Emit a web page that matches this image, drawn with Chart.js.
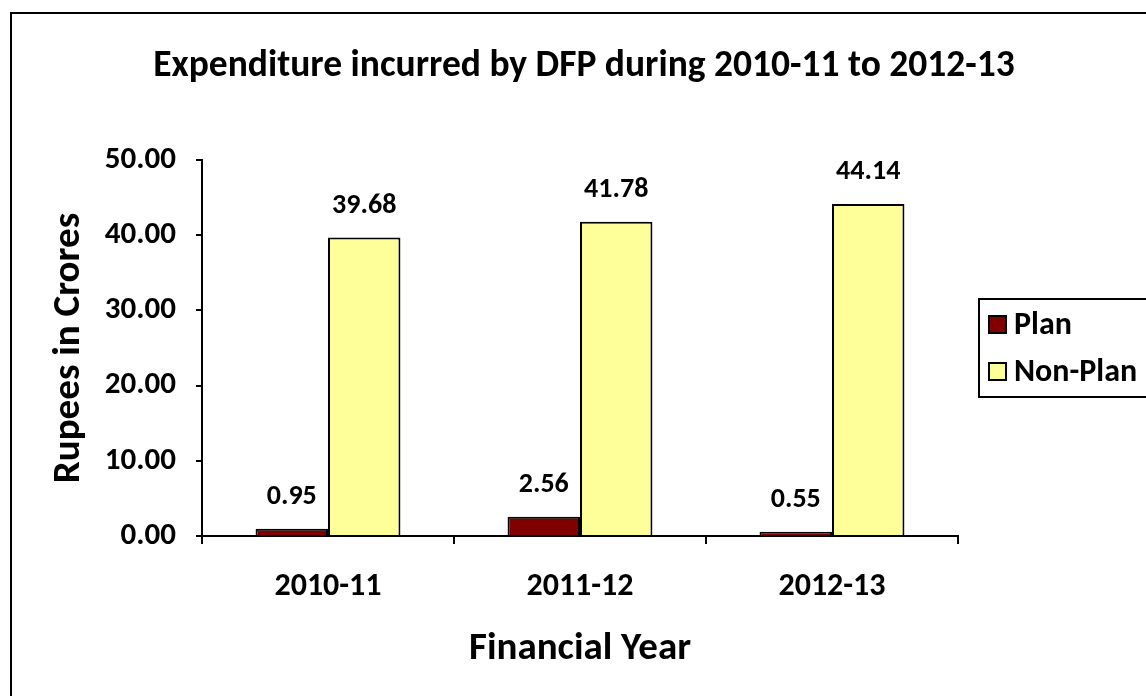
<!DOCTYPE html>
<html>
<head>
<meta charset="utf-8">
<script src="https://cdn.jsdelivr.net/npm/chart.js@4/dist/chart.umd.min.js"></script>
<style>
  html, body { margin: 0; padding: 0; background: #fff; }
  #wrap { width: 1146px; height: 696px; position: relative; }
</style>
</head>
<body>
<div id="wrap"><canvas id="chart"></canvas></div>
<script>
const years = ['2010-11', '2011-12', '2012-13']
const planValues = [0.95, 2.56, 0.55]
const nonPlanValues = [39.68, 41.78, 44.14]
const seriesNames = ['Plan', 'Non-Plan']
const seriesColors = ['#800000', '#FFFF99']

const FONT = 'Carlito, Lato, "Liberation Sans", sans-serif'

// outer frame of the chart object (runs off the right and bottom edge)
const frame = {
  id: 'frame',
  beforeDraw(chart) {
    const ctx = chart.ctx
    ctx.save()
    ctx.fillStyle = '#fff'
    ctx.fillRect(0, 0, chart.width, chart.height)
    ctx.strokeStyle = '#000'
    ctx.lineWidth = 2
    ctx.strokeRect(11, 13, chart.width + 20, chart.height + 20)
    ctx.restore()
  }
}

// value labels above each bar
const valueLabels = {
  id: 'valueLabels',
  afterDatasetsDraw(chart) {
    const ctx = chart.ctx
    ctx.save()
    ctx.font = 'bold 28px ' + FONT
    ctx.fillStyle = '#000'
    ctx.textAlign = 'center'
    ctx.textBaseline = 'middle'
    chart.data.datasets.forEach((ds, i) => {
      chart.getDatasetMeta(i).data.forEach((bar, j) => {
        ctx.fillText(ds.data[j].toFixed(2), bar.x, bar.y - 32)
      })
    })
    ctx.restore()
  }
}

// boxed legend on the right
const boxLegend = {
  id: 'boxLegend',
  afterDraw(chart) {
    const ctx = chart.ctx
    const x = 979, y = 299, w = 200, h = 98
    ctx.save()
    ctx.strokeStyle = '#000'
    ctx.lineWidth = 2
    ctx.strokeRect(x, y, w, h)
    ctx.font = 'bold 32px ' + FONT
    ctx.textBaseline = 'middle'
    ctx.textAlign = 'left'
    chart.data.datasets.forEach((ds, i) => {
      const cy = 325 + i * 47
      ctx.fillStyle = ds.backgroundColor
      ctx.fillRect(989, cy - 9, 17, 17)
      ctx.strokeRect(989, cy - 9, 17, 17)
      ctx.fillStyle = '#000'
      ctx.fillText(ds.label, 1014, cy + 1)
    })
    ctx.restore()
  }
}

new Chart(document.getElementById('chart').getContext('2d'), {
  type: 'bar',
  data: {
    labels: years,
    datasets: [
      {
        label: seriesNames[0],
        data: planValues,
        backgroundColor: seriesColors[0],
        borderColor: '#000',
        borderWidth: 2,
        barPercentage: 1,
        categoryPercentage: 0.575
      },
      {
        label: seriesNames[1],
        data: nonPlanValues,
        backgroundColor: seriesColors[1],
        borderColor: '#000',
        borderWidth: 2,
        barPercentage: 1,
        categoryPercentage: 0.575
      }
    ]
  },
  options: {
    responsive: true,
    maintainAspectRatio: false,
    animation: false,
    layout: {
      padding: { left: 22, top: 12, right: 0, bottom: 12 }
    },
    plugins: {
      legend: { display: false },
      tooltip: { enabled: false },
      title: {
        display: true,
        text: 'Expenditure incurred by DFP during 2010-11 to 2012-13',
        color: '#000',
        font: { family: FONT, size: 37.5, weight: 'bold' },
        padding: { top: 32, bottom: 71 }
      }
    },
    scales: {
      x: {
        afterFit(scale) { scale.height = 696 - 536 - 12 },
        grid: {
          offset: true,
          drawOnChartArea: false,
          color: '#000',
          lineWidth: 2,
          tickLength: 8
        },
        border: { color: '#000', width: 2 },
        ticks: {
          color: '#000',
          padding: 24,
          font: { family: FONT, size: 32, weight: 'bold' }
        },
        title: {
          display: true,
          text: 'Financial Year',
          color: '#000',
          font: { family: FONT, size: 39, weight: 'bold' },
          padding: { top: 4, bottom: 11 }
        }
      },
      y: {
        min: 0,
        max: 50,
        afterFit(scale) { scale.width = 202 - 22 },
        grid: {
          drawOnChartArea: false,
          color: '#000',
          lineWidth: 2,
          tickLength: 6
        },
        border: { color: '#000', width: 2 },
        ticks: {
          stepSize: 10,
          color: '#000',
          padding: 20,
          font: { family: FONT, size: 31, weight: 'bold' },
          callback: v => v.toFixed(2)
        },
        title: {
          display: true,
          text: 'Rupees in Crores',
          color: '#000',
          font: { family: FONT, size: 39, weight: 'bold' },
          padding: { top: 24, bottom: 0 }
        }
      },
      // empty axis that keeps room for the legend on the right
      side: {
        type: 'linear',
        position: 'right',
        afterFit(scale) { scale.width = 1146 - 958 },
        grid: { display: false },
        border: { display: false },
        ticks: { display: false }
      }
    }
  },
  plugins: [frame, valueLabels, boxLegend]
})
</script>
</body>
</html>
